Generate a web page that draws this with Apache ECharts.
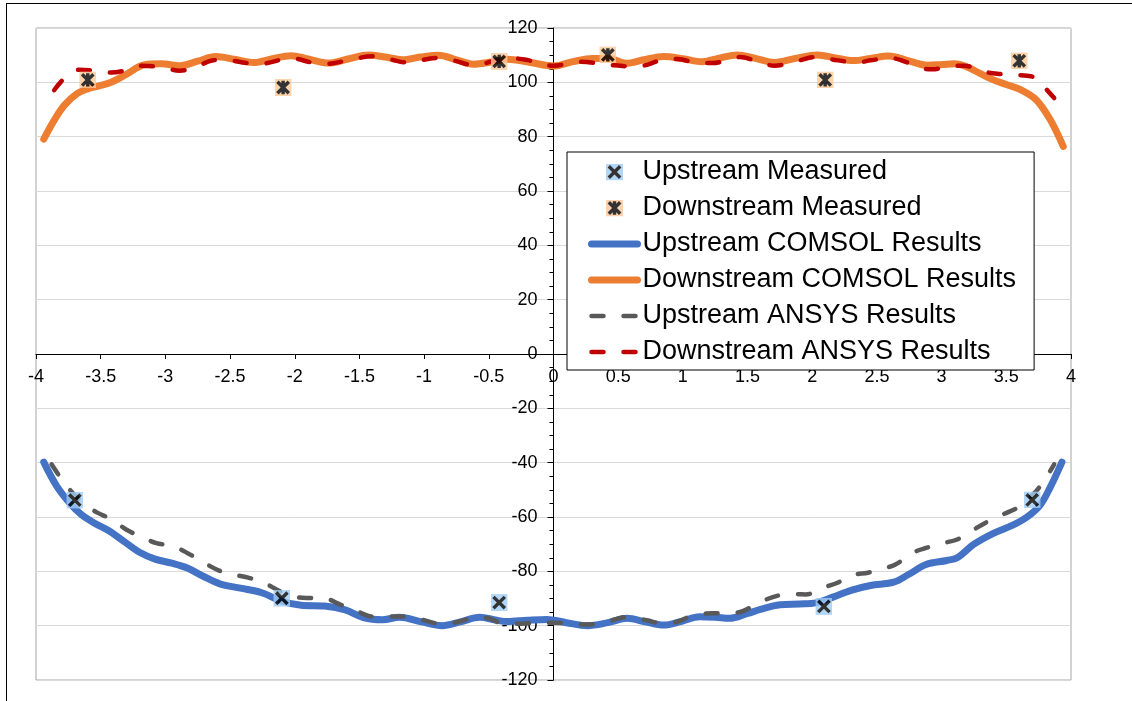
<!DOCTYPE html>
<html>
<head>
<meta charset="utf-8">
<script src="https://cdn.jsdelivr.net/npm/echarts@6/dist/echarts.min.js"></script>
<style>
  html, body { margin: 0; padding: 0; background: #fff; overflow: hidden; }
  #chart { position: absolute; left: 0; top: 0; width: 1132px; height: 701px; }
  #frame { position: absolute; left: 6px; top: 3px; width: 1300px; height: 900px; border: 1px solid #000; pointer-events: none; }
</style>
</head>
<body>
<div id="frame"></div>
<div id="chart"></div>
<script>
// ---- data (x position, value) ----
const upstreamMeasured = [[-3.70,-53.8],[-2.10,-89.9],[-0.42,-91.5],[2.09,-92.9],[3.70,-53.7]];
const downstreamMeasured = [[-3.60,100.9],[-2.09,98.1],[-0.42,107.7],[0.42,110.1],[2.10,100.9],[3.60,107.9]];

const upstreamComsol = [[-3.94,-39.8],[-3.84,-48.6],[-3.73,-55.4],[-3.65,-59.1],[-3.54,-62.5],[-3.44,-65.0],[-3.32,-69.0],[-3.20,-73.0],[-3.08,-75.5],[-2.95,-77.0],[-2.83,-78.8],[-2.70,-82.0],[-2.58,-84.6],[-2.42,-86.2],[-2.26,-87.8],[-2.10,-91.0],[-1.95,-92.5],[-1.77,-92.8],[-1.61,-94.2],[-1.47,-97.0],[-1.32,-97.8],[-1.19,-96.9],[-1.02,-98.6],[-0.86,-100.0],[-0.72,-98.6],[-0.57,-96.9],[-0.45,-97.9],[-0.36,-98.5],[-0.20,-98.0],[-0.05,-97.7],[0.10,-98.9],[0.26,-100.0],[0.42,-98.9],[0.57,-97.3],[0.71,-98.6],[0.85,-99.8],[0.99,-98.4],[1.13,-96.7],[1.25,-96.9],[1.36,-97.3],[1.50,-95.5],[1.60,-94.0],[1.75,-92.3],[1.90,-92.0],[2.03,-91.6],[2.16,-89.5],[2.30,-87.0],[2.45,-85.2],[2.63,-84.0],[2.75,-81.0],[2.88,-77.5],[3.04,-76.0],[3.12,-75.0],[3.25,-70.0],[3.40,-66.0],[3.55,-63.0],[3.66,-60.0],[3.76,-55.7],[3.84,-49.0],[3.93,-39.8]];

const downstreamComsol = [[-3.94,79.1],[-3.86,86.0],[-3.78,91.6],[-3.68,95.9],[-3.60,97.6],[-3.52,98.6],[-3.42,100.0],[-3.31,102.7],[-3.16,106.5],[-3.03,106.8],[-2.89,106.1],[-2.75,107.8],[-2.61,109.5],[-2.47,108.5],[-2.32,107.3],[-2.18,108.6],[-2.03,109.8],[-1.89,108.5],[-1.74,107.1],[-1.58,108.7],[-1.43,110.1],[-1.30,109.3],[-1.17,108.3],[-1.03,109.3],[-0.89,110.0],[-0.75,108.3],[-0.62,106.7],[-0.48,107.5],[-0.36,108.5],[-0.18,107.3],[0.00,106.0],[0.15,107.6],[0.30,108.8],[0.43,108.8],[0.56,107.0],[0.70,108.3],[0.85,109.5],[1.00,108.7],[1.15,107.6],[1.28,108.9],[1.42,110.1],[1.56,108.8],[1.71,107.3],[1.87,108.8],[2.04,110.1],[2.18,109.0],[2.32,108.0],[2.45,108.8],[2.59,109.7],[2.74,108.0],[2.89,106.3],[3.01,106.6],[3.10,106.8],[3.19,105.8],[3.30,103.2],[3.40,100.9],[3.50,99.2],[3.61,97.3],[3.73,93.6],[3.84,86.2],[3.94,76.4]];

const upstreamAnsys = [[-3.88,-40.6],[-3.80,-46.2],[-3.70,-52.0],[-3.60,-56.0],[-3.53,-58.3],[-3.41,-61.0],[-3.30,-64.7],[-3.18,-67.4],[-3.07,-69.6],[-2.95,-70.6],[-2.82,-73.5],[-2.72,-76.3],[-2.60,-79.4],[-2.50,-81.0],[-2.36,-82.3],[-2.24,-84.2],[-2.11,-87.4],[-1.98,-89.6],[-1.88,-89.8],[-1.78,-89.9],[-1.64,-92.4],[-1.53,-94.4],[-1.40,-96.6],[-1.27,-96.6],[-1.12,-96.7],[-1.01,-97.9],[-0.86,-99.4],[-0.73,-98.5],[-0.60,-96.9],[-0.50,-97.3],[-0.39,-99.2],[-0.25,-99.3],[-0.11,-98.9],[0.05,-99.0],[0.20,-99.6],[0.37,-99.1],[0.57,-96.8],[0.72,-98.0],[0.85,-99.3],[0.96,-98.5],[1.10,-95.9],[1.28,-95.4],[1.42,-95.2],[1.60,-91.2],[1.75,-88.8],[1.88,-88.4],[1.95,-88.5],[2.11,-85.6],[2.19,-84.3],[2.32,-81.3],[2.43,-80.5],[2.56,-78.8],[2.64,-77.6],[2.80,-72.7],[2.88,-71.4],[3.01,-69.6],[3.12,-68.3],[3.25,-64.6],[3.36,-61.6],[3.49,-58.7],[3.60,-56.2],[3.73,-50.5],[3.80,-46.0],[3.87,-40.6]];

const downstreamAnsys = [[-3.86,97.1],[-3.78,101.5],[-3.67,104.6],[-3.55,104.3],[-3.42,103.6],[-3.29,104.6],[-3.18,106.1],[-3.03,105.6],[-2.89,104.3],[-2.79,105.2],[-2.63,108.1],[-2.55,108.3],[-2.37,107.1],[-2.27,106.8],[-2.08,108.6],[-2.03,108.9],[-1.87,107.3],[-1.77,106.7],[-1.59,108.1],[-1.40,109.6],[-1.30,108.9],[-1.13,107.3],[-0.90,109.0],[-0.75,107.8],[-0.62,106.3],[-0.44,108.1],[-0.31,108.8],[-0.21,108.3],[0.00,106.1],[0.20,107.6],[0.44,106.4],[0.64,105.8],[0.85,108.3],[0.96,108.6],[1.12,107.1],[1.23,107.1],[1.39,108.9],[1.44,109.3],[1.60,107.3],[1.71,106.1],[1.87,107.7],[2.03,109.3],[2.13,108.6],[2.35,107.3],[2.45,108.1],[2.61,108.9],[2.69,108.1],[2.85,105.2],[2.93,104.8],[3.09,106.1],[3.17,106.1],[3.36,103.6],[3.44,103.1],[3.58,102.7],[3.66,102.4],[3.72,101.7],[3.80,97.9],[3.87,94.2]];

const legendNames = ['Upstream Measured','Downstream Measured','Upstream COMSOL Results','Downstream COMSOL Results','Upstream ANSYS Results','Downstream ANSYS Results'];

// ---- marker images ----
function svgIcon(fill, star) {
  let s = "<svg xmlns='http://www.w3.org/2000/svg' width='34' height='34' viewBox='0 0 17 17'>" +
    "<rect x='0' y='0' width='17' height='17' fill='" + fill + "'/>" +
    "<path d='M2.8 2.8L14.2 14.2M14.2 2.8L2.8 14.2" + (star ? "M8.5 1.8L8.5 15.2" : "") + "' stroke='#000' stroke-width='3.4' fill='none'/></svg>";
  return 'image://data:image/svg+xml;charset=utf-8,' + encodeURIComponent(s);
}
const upIcon = svgIcon('#9fcdf4', false);
const downIcon = svgIcon('#fbc899', true);

const FONT = 'Liberation Sans, Arial, sans-serif';
const chart = echarts.init(document.getElementById('chart'), null, {renderer: 'canvas'});

const hideDot = { opacity: 0 };
const GRID = { left: 36, right: 61, top: 28, bottom: 21 };
const W = 1132, H = 701;
// shift the axes so they cross at the origin (x range -4..4, y range -120..120 are symmetric)
const xAxisShift = -(H - GRID.top - GRID.bottom) / 2;
const yAxisShift = -(W - GRID.left - GRID.right) / 2;

chart.setOption({
  animation: false,
  backgroundColor: 'transparent',
  grid: { left: GRID.left, right: GRID.right, top: GRID.top, bottom: GRID.bottom, containLabel: false, outerBoundsMode: 'none',
          show: true, borderColor: '#a6a6a6', borderWidth: 1 },
  legend: {
    orient: 'vertical', left: 567, top: 152,
    padding: [2, 18, 0, 21], itemGap: 0, itemWidth: 46, itemHeight: 17,
    backgroundColor: '#fff', borderColor: '#000', borderWidth: 1, borderRadius: 0,
    selectedMode: false,
    textStyle: { fontFamily: FONT, fontSize: 27, color: '#000', lineHeight: 36 },
    data: [
      { name: legendNames[0], icon: upIcon },
      { name: legendNames[1], icon: downIcon },
      { name: legendNames[2], lineStyle: { width: 7 }, itemStyle: hideDot },
      { name: legendNames[3], lineStyle: { width: 7 }, itemStyle: hideDot },
      { name: legendNames[4], lineStyle: { width: 4.5 }, itemStyle: hideDot },
      { name: legendNames[5], lineStyle: { width: 4.5 }, itemStyle: hideDot }
    ]
  },
  xAxis: {
    type: 'value', min: -4, max: 4, interval: 0.5, position: 'bottom', offset: xAxisShift,
    axisLine: { onZero: false, lineStyle: { color: '#000', width: 1 } },
    axisTick: { show: true, length: 5, lineStyle: { color: '#000' } },
    axisLabel: { color: '#000', fontSize: 18, fontFamily: FONT, margin: 14 },
    splitLine: { show: false }
  },
  yAxis: {
    type: 'value', min: -120, max: 120, interval: 20, position: 'left', offset: yAxisShift,
    axisLine: { onZero: false, lineStyle: { color: '#000', width: 1 } },
    axisTick: { show: true, length: 6, lineStyle: { color: '#000' } },
    minorTick: { show: true, splitNumber: 4, length: 4, lineStyle: { color: '#000', width: 1 } },
    axisLabel: { color: '#000', fontSize: 18, fontFamily: FONT, margin: 16 },
    splitLine: { show: true, lineStyle: { color: '#d9d9d9', width: 1 } }
  },
  series: [
    { name: legendNames[2], type: 'line', data: upstreamComsol, smooth: 0.35, symbol: 'none',
      lineStyle: { color: '#4472c4', width: 7, cap: 'round', join: 'round' }, itemStyle: { color: '#4472c4' }, z: 2 },
    { name: legendNames[3], type: 'line', data: downstreamComsol, smooth: 0.35, symbol: 'none',
      lineStyle: { color: '#ed7d31', width: 7, cap: 'round', join: 'round' }, itemStyle: { color: '#ed7d31' }, z: 2 },
    { name: legendNames[4], type: 'line', data: upstreamAnsys, smooth: 0.35, symbol: 'none',
      lineStyle: { color: '#595959', width: 4.5, type: [12, 20], cap: 'round', join: 'round' }, itemStyle: { color: '#595959' }, z: 3 },
    { name: legendNames[5], type: 'line', data: downstreamAnsys, smooth: 0.35, symbol: 'none',
      lineStyle: { color: '#c00000', width: 4.5, type: [12, 20], cap: 'round', join: 'round' }, itemStyle: { color: '#c00000' }, z: 3 },
    { name: legendNames[0], type: 'scatter', data: upstreamMeasured, symbol: upIcon, symbolSize: 17, z: 5,
      itemStyle: { color: '#9fcdf4' } },
    { name: legendNames[1], type: 'scatter', data: downstreamMeasured, symbol: downIcon, symbolSize: 17, z: 5,
      itemStyle: { color: '#fbc899' } }
  ]
});
</script>
</body>
</html>
